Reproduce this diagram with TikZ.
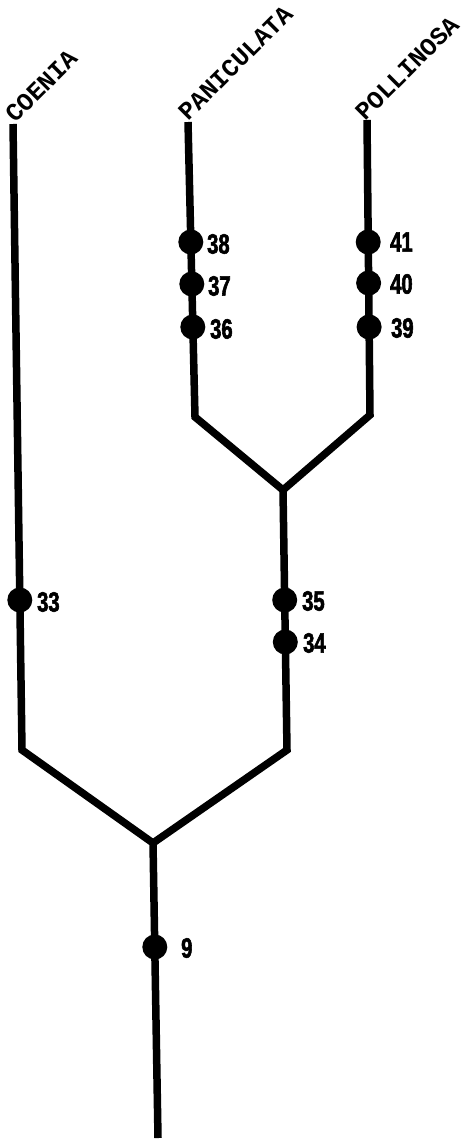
\documentclass[tikz,border=0pt]{standalone}
\usepackage{fontspec}
\newfontfamily\taxonfont{Liberation Mono Bold}
\newfontfamily\numfont{Liberation Sans Bold}[FakeStretch=0.72,FakeBold=2]
\begin{document}
\begin{tikzpicture}[x=1pt,y=1pt,
  branch/.style={line width=7.5pt,line join=miter,line cap=butt},
  apo/.style={circle,fill=black,inner sep=0pt,minimum width=24pt,minimum height=25pt},
  num/.style={anchor=west,inner sep=0pt,font=\numfont\fontsize{28}{28}\selectfont},
  taxon/.style={anchor=base west,rotate=45,inner sep=0pt,font=\taxonfont\fontsize{25}{25}\selectfont}]
\useasboundingbox (0,0) rectangle (464,-1140);

% tips, corners and junctions of the tree
\coordinate (tCoe) at (13,-124);
\coordinate (tPan) at (188,-122);
\coordinate (tPol) at (367,-120);
\coordinate (kCoe) at (22,-750);
\coordinate (kPan) at (195,-417);
\coordinate (kPol) at (370,-415);
\coordinate (jUp) at (283,-490);
\coordinate (kMid) at (287,-750);
\coordinate (jRoot) at (153,-843);
\coordinate (base) at (158,-1138);

% branches
\draw[branch] (tCoe) -- (kCoe) -- (jRoot) -- (base);
\draw[branch] (jRoot) -- (kMid) -- (jUp);
\draw[branch] (tPan) -- (kPan) -- (jUp) -- (kPol) -- (tPol);

% taxon names
\node[taxon] (nCoe) at (15,-124) {COENIA};
\node[taxon] (nPan) at (188,-122) {PANICULATA};
\node[taxon] (nPol) at (365,-122) {POLLINOSA};

% character states on the branches
\node[apo] (d38) at (190.8,-242) {};
\node[apo] (d37) at (191.8,-284) {};
\node[apo] (d36) at (192.8,-327) {};
\node[apo] (d41) at (368.2,-242) {};
\node[apo] (d40) at (368.6,-283) {};
\node[apo] (d39) at (369.1,-327) {};
\node[apo] (d33) at (19.8,-600) {};
\node[apo] (d35) at (284.7,-600) {};
\node[apo] (d34) at (285.3,-642) {};
\node[apo] (d9) at (154.8,-947) {};

\node[num] (l38) at (207,-244) {38};
\node[num] (l37) at (208,-286) {37};
\node[num] (l36) at (210,-329) {36};
\node[num] (l41) at (390,-242) {41};
\node[num] (l40) at (390,-284) {40};
\node[num] (l39) at (391,-328) {39};
\node[num] (l33) at (37,-602) {33};
\node[num] (l35) at (302,-601) {35};
\node[num] (l34) at (303,-643) {34};
\node[num] (l9) at (181,-948) {9};
\end{tikzpicture}
\end{document}
